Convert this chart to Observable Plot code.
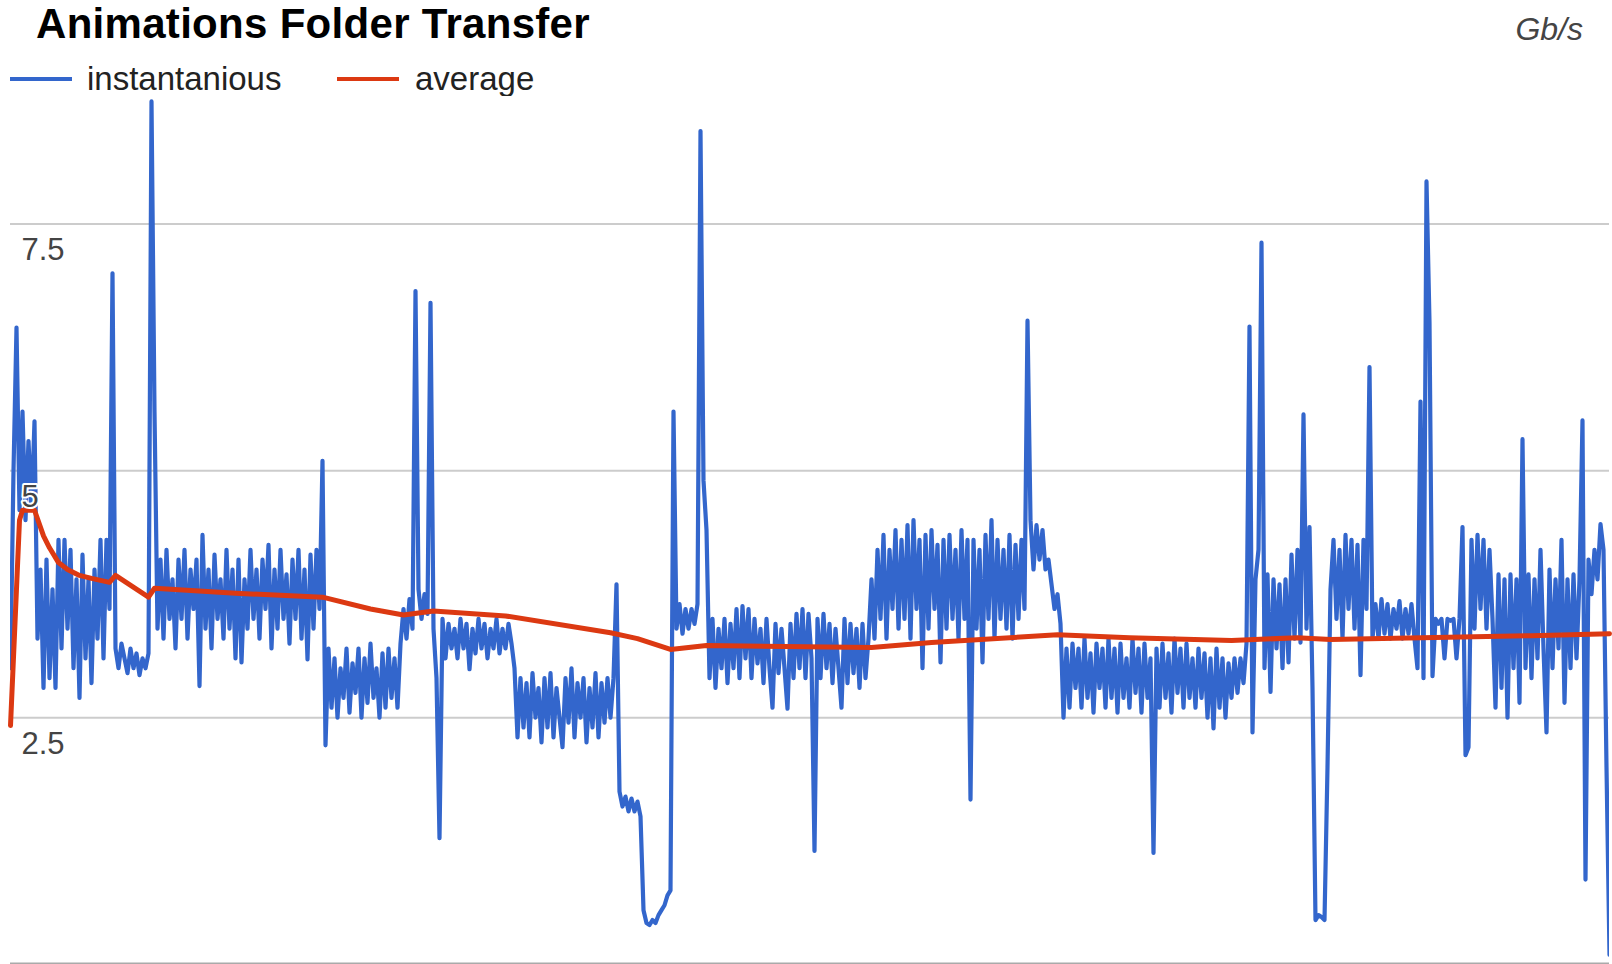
<!DOCTYPE html>
<html>
<head>
<meta charset="utf-8">
<script src="https://cdn.jsdelivr.net/npm/d3@7"></script>
<script src="https://cdn.jsdelivr.net/npm/@observablehq/plot@0.6"></script>
<style>
html, body { margin: 0; padding: 0; background: #fff; overflow: hidden; }
#wrap { position: relative; width: 1612px; height: 964px; font-family: Arial, "Liberation Sans", sans-serif; }
#head { position: relative; width: 1612px; height: 96px; }
#title { position: absolute; left: 36px; top: 3px; font-size: 42px; line-height: 42px; letter-spacing: 0.3px; font-weight: bold; color: #000; white-space: nowrap; }
#unit { position: absolute; right: 29px; top: 13px; font-size: 32px; line-height: 32px; font-style: italic; color: #444; }
.swatch { position: absolute; top: 77px; height: 4px; }
.lgtext { position: absolute; top: 62px; font-size: 33px; line-height: 33px; color: #222; white-space: nowrap; }
#chart { position: relative; width: 1612px; height: 868px; }
#chart svg { display: block; }
</style>
</head>
<body>
<div id="wrap">
  <div id="head">
    <div id="title"></div>
    <div id="unit"></div>
    <div id="legend"></div>
  </div>
  <div id="chart"></div>
</div>
<script>
// ---- data ----
const chartTitle = "Animations Folder Transfer";
const unitLabel = "Gb/s";
const seriesNames = ["instantanious", "average"];
const seriesColors = ["#3366cc", "#dc3912"];

// y grid / tick values and their labels
const yTicks = [2.5, 5, 7.5];
const yTickLabels = ["2.5", "5", "7.5"];

// instantaneous transfer rate (Gb/s), one reading per sample
const instantaneous = [
  3.0, 5.0, 6.45, 4.6, 5.6, 4.5, 5.3, 4.6, 5.5, 3.3,
  4.0, 2.8, 4.1, 2.9, 3.8, 2.8, 4.3, 3.2, 4.3, 3.4,
  4.2, 3.0, 3.9, 2.7, 4.15, 3.1, 3.9, 2.85, 4.0, 3.3,
  4.3, 3.1, 4.3, 3.6, 7.0, 3.2, 3.0, 3.25, 3.1, 2.95,
  3.2, 3.0, 3.15, 2.93, 3.1, 3.0, 3.15, 8.74, 5.6, 3.4,
  4.1, 3.3, 4.2, 3.5, 3.9, 3.2, 4.1, 3.5, 4.2, 3.3,
  4.0, 3.6, 4.1, 2.82, 4.35, 3.4, 4.0, 3.2, 4.15, 3.5,
  3.9, 3.3, 4.2, 3.4, 4.0, 3.1, 4.1, 3.06, 3.9, 3.4,
  4.2, 3.5, 4.0, 3.3, 4.1, 3.6, 4.25, 3.2, 4.0, 3.4,
  4.2, 3.5, 3.95, 3.25, 4.1, 3.5, 4.2, 3.3, 4.0, 3.09,
  4.15, 3.4, 4.2, 3.6, 5.1, 2.22, 3.2, 2.6, 3.1, 2.5,
  3.0, 2.7, 3.2, 2.55, 3.05, 2.75, 3.2, 2.5, 3.1, 2.65,
  3.25, 2.7, 3.0, 2.5, 3.15, 2.6, 3.2, 2.7, 3.1, 2.6,
  3.25, 3.6, 3.3, 3.7, 3.4, 6.82, 3.8, 3.5, 3.75, 3.55,
  6.7, 3.4, 2.9, 1.28, 3.5, 3.1, 3.45, 3.2, 3.4, 3.1,
  3.5, 3.2, 3.45, 2.99, 3.4, 3.15, 3.5, 3.2, 3.45, 3.1,
  3.4, 3.2, 3.5, 3.15, 3.4, 3.2, 3.45, 3.25, 3.0, 2.3,
  2.9, 2.4, 2.85, 2.3, 2.95, 2.5, 2.8, 2.25, 2.9, 2.4,
  2.95, 2.3, 2.8, 2.5, 2.2, 2.9, 2.45, 3.0, 2.3, 2.85,
  2.5, 2.9, 2.25, 2.8, 2.4, 2.95, 2.3, 2.85, 2.45, 2.9,
  2.5, 2.9, 3.85, 1.75, 1.6, 1.7, 1.55, 1.68, 1.55, 1.65,
  1.5, 0.55, 0.42, 0.4, 0.45, 0.42, 0.5, 0.55, 0.6, 0.7,
  0.75, 5.6, 3.4, 3.65, 3.35, 3.6, 3.4, 3.6, 3.45, 3.65,
  8.44, 4.9, 4.4, 2.9, 3.5, 2.8, 3.4, 3.0, 3.5, 2.85,
  3.45, 3.0, 3.6, 2.9, 3.63, 3.1, 3.6, 2.9, 3.5, 3.05,
  3.4, 2.85, 3.5, 3.0, 2.6, 3.45, 2.95, 3.4, 3.0, 2.59,
  3.45, 2.9, 3.55, 3.0, 3.6, 2.9, 3.55, 3.1, 1.15, 3.5,
  2.9, 3.55, 3.0, 3.45, 2.85, 3.4, 3.0, 2.6, 3.5, 2.85,
  3.45, 2.95, 3.4, 2.8, 3.45, 2.9, 3.3, 3.9, 3.3, 4.2,
  3.5, 4.35, 3.3, 4.2, 3.6, 4.4, 3.4, 4.3, 3.5, 4.45,
  3.3, 4.5, 3.6, 4.3, 3.0, 4.35, 3.4, 4.4, 3.6, 4.25,
  3.06, 4.3, 3.4, 4.35, 3.5, 4.2, 3.3, 4.4, 3.5, 4.3,
  1.67, 4.3, 3.4, 4.2, 3.06, 4.35, 3.5, 4.5, 3.3, 4.3,
  3.5, 4.2, 3.4, 4.35, 3.3, 4.25, 3.5, 4.3, 3.6, 6.52,
  4.5, 4.0, 4.45, 4.1, 4.4, 4.0, 4.1, 3.85, 3.6, 3.75,
  3.45, 2.5, 3.2, 2.6, 3.25, 2.8, 3.2, 2.6, 3.3, 2.7,
  3.15, 2.55, 3.25, 2.8, 3.2, 2.6, 3.3, 2.7, 3.2, 2.55,
  3.25, 2.7, 3.1, 2.6, 3.3, 2.75, 3.2, 2.55, 3.25, 2.7,
  3.1, 1.13, 3.2, 2.6, 3.25, 2.7, 3.15, 2.55, 3.3, 2.75,
  3.2, 2.6, 3.25, 2.7, 3.1, 2.6, 3.2, 2.7, 3.15, 2.5,
  3.1, 2.39, 3.2, 2.6, 3.1, 2.5, 3.05, 2.7, 3.1, 2.75,
  3.1, 2.85, 3.25, 6.46, 2.35, 3.9, 4.2, 7.31, 3.0, 3.95,
  2.76, 3.9, 3.2, 3.85, 3.0, 3.9, 3.06, 4.15, 3.3, 4.2,
  3.26, 5.57, 3.4, 4.43, 2.8, 0.45, 0.5, 0.48, 0.45, 2.0,
  3.8, 4.3, 3.5, 4.2, 3.3, 4.35, 3.6, 4.3, 3.4, 4.25,
  2.93, 4.3, 3.6, 6.05, 3.3, 3.65, 3.3, 3.7, 3.35, 3.65,
  3.3, 3.6, 3.4, 3.68, 3.3, 3.6, 3.35, 3.65, 3.3, 3.0,
  5.7, 2.9, 7.93, 6.5, 2.92, 3.5, 3.45, 3.5, 3.1, 3.5,
  3.48, 3.5, 3.1, 3.5, 4.43, 2.12, 2.2, 4.3, 3.4, 4.35,
  3.6, 4.3, 3.4, 4.2, 3.5, 2.6, 3.95, 2.8, 3.9, 2.5,
  3.95, 3.0, 3.9, 2.65, 5.32, 3.0, 3.95, 2.9, 3.9, 3.1,
  4.2, 3.2, 2.35, 4.0, 3.0, 3.9, 3.2, 4.3, 2.65, 3.9,
  3.0, 3.95, 3.1, 3.9, 5.51, 0.86, 4.1, 3.75, 4.2, 3.9,
  4.46, 4.2, 2.0, 0.1
];

// running average (Gb/s), read at these sample numbers
const averageSamples = [0, 3, 4, 8, 11, 13, 16, 19, 23, 27, 33, 35, 46, 48, 75, 104, 120, 131, 141, 165, 200, 209, 220, 232, 287, 307, 349, 373, 407, 429, 440, 507, 533];
const averageValues  = [2.42, 4.5, 4.6, 4.6, 4.34, 4.22, 4.07, 4.0, 3.94, 3.91, 3.87, 3.94, 3.72, 3.81, 3.76, 3.72, 3.6, 3.54, 3.58, 3.53, 3.36, 3.3, 3.19, 3.23, 3.21, 3.26, 3.34, 3.31, 3.28, 3.31, 3.29, 3.33, 3.35];

// ---- header ----
document.getElementById("title").textContent = chartTitle;
document.getElementById("unit").textContent = unitLabel;
const legend = document.getElementById("legend");
const legendLayout = [{sw: 10, tx: 87}, {sw: 337, tx: 415}];
seriesNames.forEach((name, k) => {
  const s = document.createElement("div");
  s.className = "swatch";
  s.style.left = legendLayout[k].sw + "px";
  s.style.width = "62px";
  s.style.background = seriesColors[k];
  legend.appendChild(s);
  const t = document.createElement("div");
  t.className = "lgtext";
  t.style.left = legendLayout[k].tx + "px";
  t.textContent = name;
  legend.appendChild(t);
});

// ---- chart ----
const inst = instantaneous.map((v, i) => ({t: i, v}));
const avg = averageSamples.map((t, k) => ({t, v: averageValues[k]}));

const chart = Plot.plot({
  width: 1612,
  height: 868,
  marginLeft: 10,
  marginRight: 3,
  marginTop: 0,
  marginBottom: 0,
  style: {fontFamily: "Arial, 'Liberation Sans', sans-serif", background: "#fff"},
  x: {domain: [0, instantaneous.length - 1], axis: null},
  y: {domain: [0, 8.79], axis: null},
  marks: [
    Plot.ruleY(yTicks, {stroke: "#cccccc", strokeWidth: 2}),
    Plot.line(inst, {x: "t", y: "v", stroke: seriesColors[0], strokeWidth: 4.2, strokeLinejoin: "round", clip: true}),
    Plot.line(avg, {x: "t", y: "v", stroke: seriesColors[1], strokeWidth: 5, strokeLinejoin: "round"}),
    Plot.ruleY([0], {stroke: "#aaaaaa", strokeWidth: 2, dy: -1}),
    Plot.text(yTicks, {
      y: d => d,
      text: (d, i) => yTickLabels[i],
      frameAnchor: "left",
      dx: 11,
      dy: 26,
      textAnchor: "start",
      fontSize: 31,
      fill: "#444",
      stroke: "white",
      strokeWidth: 4
    })
  ]
});
document.getElementById("chart").appendChild(chart);
</script>
</body>
</html>
